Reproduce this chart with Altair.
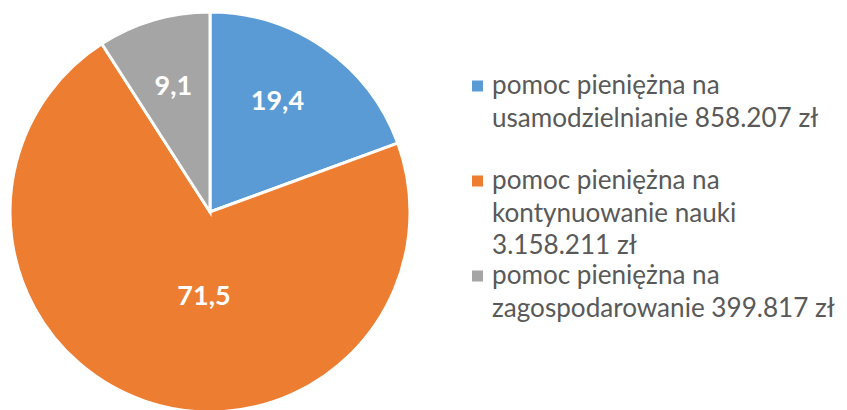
import altair as alt
import pandas as pd

categories = [
    "pomoc pieniężna na usamodzielnianie 858.207 zł",
    "pomoc pieniężna na kontynuowanie nauki 3.158.211 zł",
    "pomoc pieniężna na zagospodarowanie 399.817 zł",
]
legend_lines = [
    ["pomoc pieniężna na", "usamodzielnianie 858.207 zł"],
    ["pomoc pieniężna na", "kontynuowanie nauki", "3.158.211 zł"],
    ["pomoc pieniężna na", "zagospodarowanie 399.817 zł"],
]
shares = [19.4, 71.5, 9.1]
labels = ["19,4", "71,5", "9,1"]
colors = ["#5B9BD5", "#ED7D31", "#A5A5A5"]

df = pd.DataFrame({
    "cat": categories,
    "share": shares,
    "label": labels,
    "idx": list(range(len(categories))),
    "legend": ["\n".join(l) for l in legend_lines],
})

CX, CY = 202, 204
color_scale = alt.Scale(domain=categories, range=colors)
theta = alt.Theta("share:Q", stack=True)
order = alt.Order("idx:Q")

base = alt.Chart(df)

arcs = base.mark_arc(radius=200, stroke="white", strokeWidth=3).encode(
    theta=theta,
    order=order,
    color=alt.Color("cat:N", scale=color_scale, legend=None),
    x=alt.value(CX),
    y=alt.value(CY),
)

# per-label placement tweaks (Excel best-fit positions)
label_style = {0: (130, -7, -3), 1: (88, 22, 2), 2: (130, 0, 0)}
label_layers = []
for i, (r, dx, dy) in label_style.items():
    label_layers.append(
        base.mark_text(radius=r, dx=dx, dy=dy, font="Lato", fontWeight="bold",
                       fontSize=27, color="white", baseline="middle")
        .encode(theta=theta, order=order, text="label:N",
                x=alt.value(CX), y=alt.value(CY),
                opacity=alt.condition(f"datum.idx == {i}", alt.value(1), alt.value(0)))
    )

ypos = alt.Y("idx:Q", scale=alt.Scale(domain=[0, 2], range=[78, 268]), axis=None)

squares = base.mark_square(size=121, opacity=1).encode(
    x=alt.value(469.5),
    y=ypos,
    color=alt.Color("cat:N", scale=color_scale, legend=None),
)

legend_text = base.mark_text(
    align="left", baseline="alphabetic", dy=8, font="Lato", fontSize=26.1,
    color="#595959", lineBreak="\n", lineHeight=32.5,
).encode(
    x=alt.value(484),
    y=ypos,
    text="legend:N",
)

chart = alt.layer(arcs, *label_layers, squares, legend_text).properties(
    width=831, height=402, padding=0, autosize=alt.AutoSizeParams(type="none")
).configure_view(stroke=None)

chart.save("out.html", embed_options={"renderer": "svg", "actions": False})
